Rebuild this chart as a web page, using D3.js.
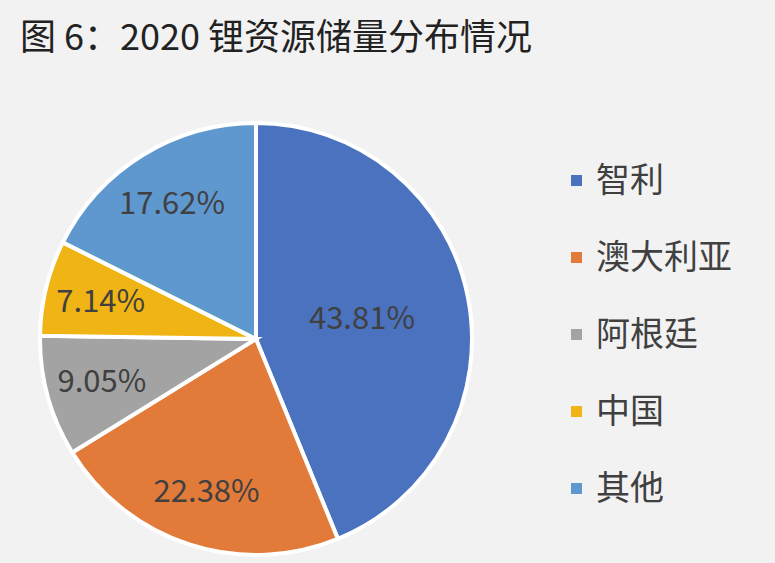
<!DOCTYPE html><html><head><meta charset="utf-8"><script src="https://cdn.jsdelivr.net/npm/d3@7"></script>
<style>body{margin:0;background:#f2f2f2}</style></head><body><svg width="775" height="563"></svg>
<script>
const categories=["智利","澳大利亚","阿根廷","中国","其他"];
const values=[43.81,22.38,9.05,7.14,17.62];
const colors=["#4a72be","#e27b39","#a3a3a3","#f0b514","#5f98cf"];
const svg=d3.select("svg");
svg.append("rect").attr("width",775).attr("height",563).attr("fill","#f2f2f2");
const font="'Noto Sans CJK SC','Noto Sans',sans-serif";
svg.append("text").attr("x",20).attr("y",50).attr("font-family",font).attr("font-size",36).attr("fill","#222").text("图 6：2020 锂资源储量分布情况");
const cx=256,cy=339,r=216;
const pie=d3.pie().sort(null).value(d=>d)(values);
const arc=d3.arc().innerRadius(0).outerRadius(r);
const g=svg.append("g").attr("transform",`translate(${cx},${cy})`);
g.selectAll("path").data(pie).join("path").attr("d",arc).attr("fill",(d,i)=>colors[i]).attr("stroke","#fff").attr("stroke-width",4);
g.selectAll("text").data(pie).join("text").attr("transform",(d,i)=>{const lr=i===0?0.5*r:0.74*r;const c=d3.arc().innerRadius(lr).outerRadius(lr).centroid(d);return `translate(${c})`;})
 .attr("text-anchor","middle").attr("dy","0.35em").attr("font-family",font).attr("font-size",31).attr("fill","#404040").text(d=>d.value.toFixed(2)+"%");
const ly=d3.scalePoint().domain(categories).range([180,488]);
const lg=svg.append("g");
lg.selectAll("rect").data(categories).join("rect").attr("x",571).attr("y",d=>ly(d)-5).attr("width",11).attr("height",11).attr("fill",(d,i)=>colors[i]);
lg.selectAll("text").data(categories).join("text").attr("x",596).attr("y",d=>ly(d)).attr("dy","0.35em").attr("font-family",font).attr("font-size",34).attr("fill","#404040").text(d=>d);
</script></body></html>
